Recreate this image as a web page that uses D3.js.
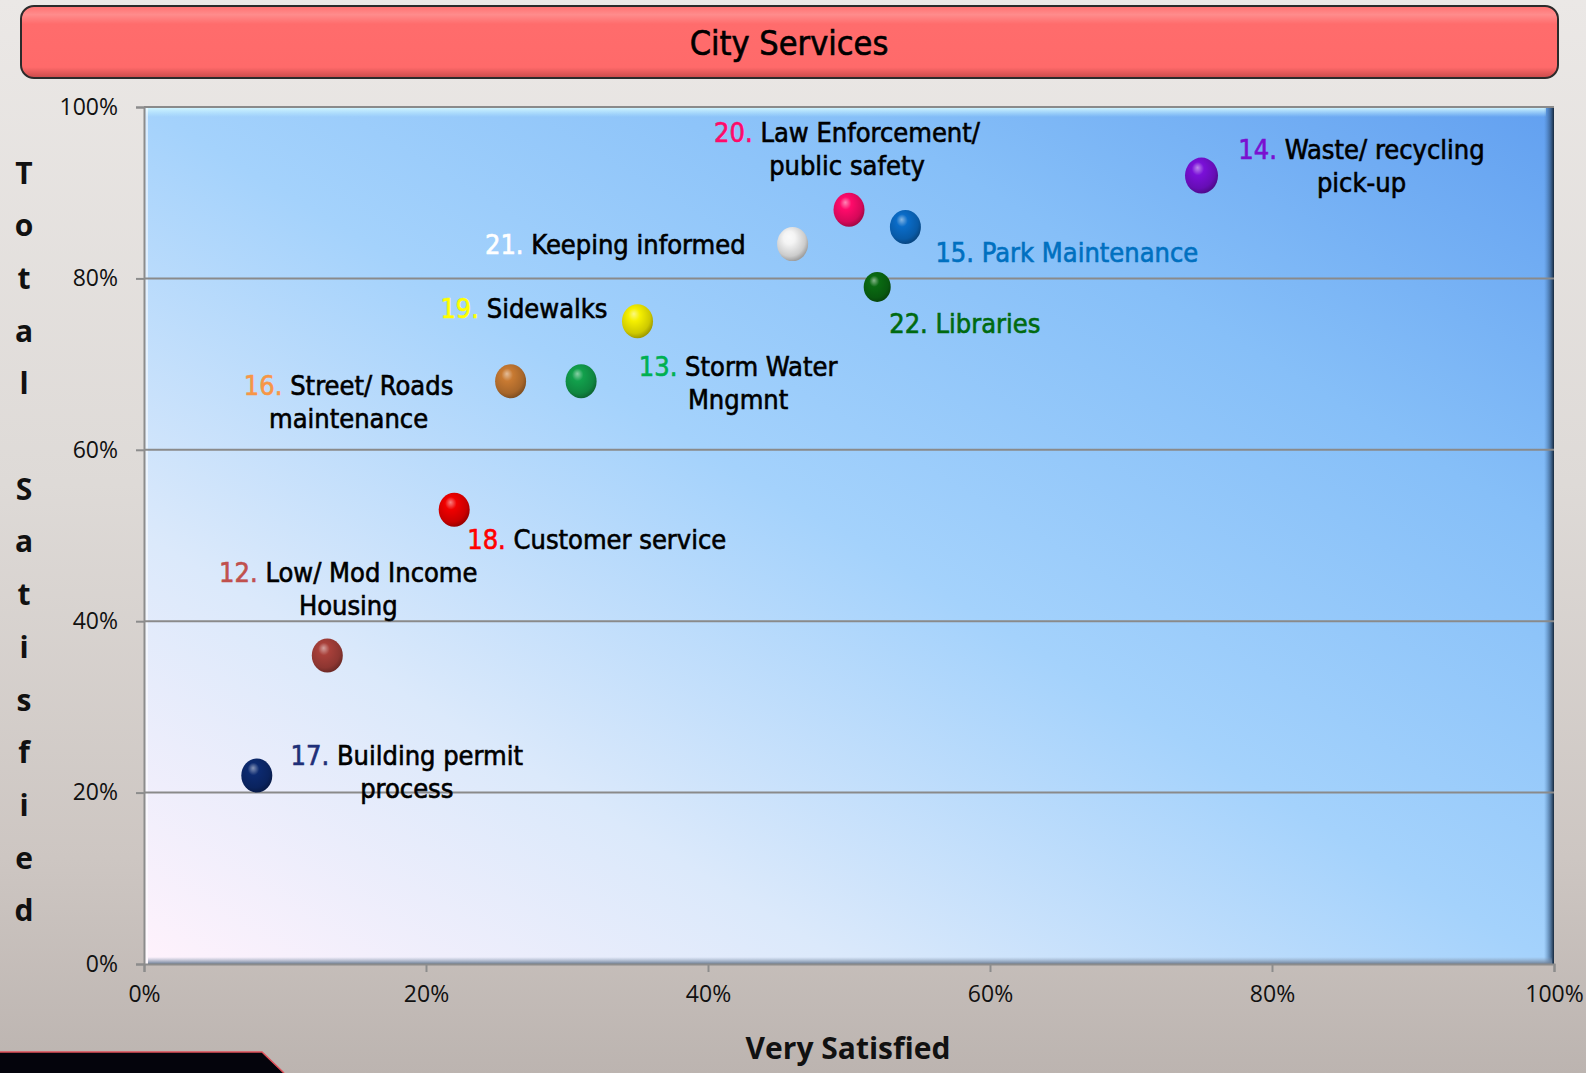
<!DOCTYPE html>
<html>
<head>
  <title>City Services - Satisfaction</title>
  <style>
    body { margin: 0; background: #d8d4d1; }
    #chart { width: 1586px; height: 1073px; }
    .tick text { font-family: "Open Sans", sans-serif; font-size: 23px; fill: #111; }
    .label { font-family: "DejaVu Sans Condensed", "Liberation Sans Narrow", Roboto, sans-serif; font-size: 27px; }
  </style>
  <script src="https://d3js.org/d3.v7.min.js"></script>
</head>
<body>
  <div id="chart"></div>

  <script>
    // data (percent)
    var serviceIds = [12, 13, 14, 15, 16, 17, 18, 19, 20, 21, 22];
    var serviceNames = [
      ["Low/ Mod Income", "Housing"],
      ["Storm Water", "Mngmnt"],
      ["Waste/ recycling", "pick-up"],
      ["Park Maintenance"],
      ["Street/ Roads", "maintenance"],
      ["Building permit", "process"],
      ["Customer service"],
      ["Sidewalks"],
      ["Law Enforcement/", "public safety"],
      ["Keeping informed"],
      ["Libraries"]
    ];
    var verySatisfied = [13, 31, 75, 54, 26, 8, 22, 35, 50, 46, 52];
    var totalSatisfied = [36, 68, 92, 86, 68, 22, 53, 75, 88, 84, 79];
    var xTicks = [0, 20, 40, 60, 80, 100];
    var yTicks = [0, 20, 40, 60, 80, 100];

    // look of each point: ball colour, number colour, text colour, label offset
    var pointStyle = {
      12: { ball: "#a8403a", num: "#c0504d", txt: "#000", anchor: "middle", dx: 21, dy: -83, r: 16 },
      13: { ball: "#12a04c", num: "#00b050", txt: "#000", anchor: "middle", dx: 157, dy: -15, r: 16 },
      14: { ball: "#7a10d8", num: "#7a10d0", txt: "#000", anchor: "middle", dx: 160, dy: -27, r: 17 },
      15: { ball: "#0a6cc8", num: "#0070c0", txt: "#0070c0", anchor: "start", dx: 30, dy: 25, r: 16 },
      16: { ball: "#c87a32", num: "#f79646", txt: "#000", anchor: "middle", dx: -162, dy: 4, r: 16 },
      17: { ball: "#0c2a70", num: "#1f2f78", txt: "#000", anchor: "middle", dx: 150, dy: -20, r: 16 },
      18: { ball: "#f00000", num: "#ff0000", txt: "#000", anchor: "start", dx: 13, dy: 29, r: 16 },
      19: { ball: "#f6f000", num: "#ffff00", txt: "#000", anchor: "end", dx: -30, dy: -13, r: 16 },
      20: { ball: "#ff0a6a", num: "#ff0a6a", txt: "#000", anchor: "middle", dx: -2, dy: -78, r: 16 },
      21: { ball: "#f4f4f4", num: "#ffffff", txt: "#000", anchor: "end", dx: -47, dy: 0, r: 16 },
      22: { ball: "#0a6a12", num: "#006a10", txt: "#006a10", anchor: "start", dx: 12, dy: 36, r: 14 }
    };

    var width = 1586, height = 1073;
    var plot = { left: 144, right: 1554, top: 107, bottom: 964 };

    var svg = d3.select("#chart").append("svg")
      .attr("width", width)
      .attr("height", height);

    var defs = svg.append("defs");

    // page background
    var bg = defs.append("linearGradient").attr("id", "bg")
      .attr("x1", 0).attr("y1", 0).attr("x2", 0).attr("y2", 1);
    bg.append("stop").attr("offset", 0).attr("stop-color", "#ebe8e6");
    bg.append("stop").attr("offset", 0.45).attr("stop-color", "#dedad7");
    bg.append("stop").attr("offset", 0.8).attr("stop-color", "#cdc6c2");
    bg.append("stop").attr("offset", 1).attr("stop-color", "#bcb4b0");
    svg.append("rect").attr("width", width).attr("height", height).attr("fill", "url(#bg)");

    // black band bottom left
    svg.append("path")
      .attr("d", "M0,1052 L262,1052 L284,1073 L0,1073 Z")
      .attr("fill", "#04040c");
    svg.append("path")
      .attr("d", "M0,1052 L262,1052 L284,1073")
      .attr("fill", "none").attr("stroke", "#e0505a").attr("stroke-width", 1.5);

    // title bar
    var tg = defs.append("linearGradient").attr("id", "titleFill")
      .attr("x1", 0).attr("y1", 0).attr("x2", 0).attr("y2", 1);
    tg.append("stop").attr("offset", 0).attr("stop-color", "#ff7070");
    tg.append("stop").attr("offset", 0.12).attr("stop-color", "#ff8c8c");
    tg.append("stop").attr("offset", 0.25).attr("stop-color", "#ff6c6c");
    tg.append("stop").attr("offset", 0.85).attr("stop-color", "#ff6a6a");
    tg.append("stop").attr("offset", 1).attr("stop-color", "#c84a4a");
    svg.append("rect")
      .attr("x", 21).attr("y", 6).attr("width", 1537).attr("height", 72).attr("rx", 13)
      .attr("fill", "url(#titleFill)").attr("stroke", "#2b2b2b").attr("stroke-width", 2);
    svg.append("text")
      .attr("x", 789).attr("y", 43)
      .attr("text-anchor", "middle").attr("dominant-baseline", "central")
      .attr("class", "label").style("font-size", "34px")
      .attr("fill", "#000").attr("stroke", "#000").attr("stroke-width", 0.6)
      .text("City Services");

    // plot area fill
    var pg = defs.append("linearGradient").attr("id", "plotFill")
      .attr("x1", 0).attr("y1", 1).attr("x2", 1).attr("y2", 0);
    pg.append("stop").attr("offset", 0).attr("stop-color", "#fff2fc");
    pg.append("stop").attr("offset", 0.25).attr("stop-color", "#dbe9fb");
    pg.append("stop").attr("offset", 0.5).attr("stop-color", "#a4d2fc");
    pg.append("stop").attr("offset", 0.75).attr("stop-color", "#86bff8");
    pg.append("stop").attr("offset", 1).attr("stop-color", "#62a0f0");
    svg.append("rect")
      .attr("x", plot.left).attr("y", plot.top)
      .attr("width", plot.right - plot.left).attr("height", plot.bottom - plot.top)
      .attr("fill", "url(#plotFill)");

    // bevel edges
    var bt = defs.append("linearGradient").attr("id", "bevTop")
      .attr("x1", 0).attr("y1", 0).attr("x2", 0).attr("y2", 1);
    bt.append("stop").attr("offset", 0).attr("stop-color", "#d2f6ff").attr("stop-opacity", 0.95);
    bt.append("stop").attr("offset", 1).attr("stop-color", "#bff0ff").attr("stop-opacity", 0);
    svg.append("rect").attr("x", plot.left + 2).attr("y", plot.top + 1)
      .attr("width", plot.right - plot.left - 10).attr("height", 9).attr("fill", "url(#bevTop)");

    var br = defs.append("linearGradient").attr("id", "bevRight")
      .attr("x1", 0).attr("y1", 0).attr("x2", 1).attr("y2", 0);
    br.append("stop").attr("offset", 0).attr("stop-color", "#3a6aa0").attr("stop-opacity", 0);
    br.append("stop").attr("offset", 0.6).attr("stop-color", "#2a4a70").attr("stop-opacity", 0.6);
    br.append("stop").attr("offset", 1).attr("stop-color", "#16283c").attr("stop-opacity", 1);
    svg.append("rect").attr("x", plot.right - 10).attr("y", plot.top)
      .attr("width", 10).attr("height", plot.bottom - plot.top).attr("fill", "url(#bevRight)");

    var bb = defs.append("linearGradient").attr("id", "bevBottom")
      .attr("x1", 0).attr("y1", 0).attr("x2", 0).attr("y2", 1);
    bb.append("stop").attr("offset", 0).attr("stop-color", "#8a9cb4").attr("stop-opacity", 0);
    bb.append("stop").attr("offset", 1).attr("stop-color", "#6c7e96").attr("stop-opacity", 1);
    svg.append("rect").attr("x", plot.left + 4).attr("y", plot.bottom - 7)
      .attr("width", plot.right - plot.left - 6).attr("height", 7).attr("fill", "url(#bevBottom)");

    svg.append("rect").attr("x", plot.left).attr("y", plot.top)
      .attr("width", 4).attr("height", plot.bottom - plot.top)
      .attr("fill", "#ffffff").attr("opacity", 0.55);

    // scales
    var x = d3.scaleLinear().domain([0, 100]).range([plot.left, plot.right]);
    var y = d3.scaleLinear().domain([0, 100]).range([plot.bottom, plot.top]);

    // gridlines
    svg.append("g").selectAll("line")
      .data(yTicks.filter(function(d) { return d > 0; }))
      .enter().append("line")
      .attr("x1", plot.left).attr("x2", plot.right)
      .attr("y1", function(d) { return y(d); }).attr("y2", function(d) { return y(d); })
      .attr("stroke", "#8a8a8a").attr("stroke-width", 2);

    // axes
    var yAxis = d3.axisLeft(y).tickValues(yTicks)
      .tickFormat(function(d) { return d + "%"; })
      .tickSize(8).tickPadding(18);
    var gy = svg.append("g").attr("transform", "translate(" + plot.left + ",0)").call(yAxis);

    var xAxis = d3.axisBottom(x).tickValues(xTicks)
      .tickFormat(function(d) { return d + "%"; })
      .tickSize(8).tickPadding(14);
    var gx = svg.append("g").attr("transform", "translate(0," + plot.bottom + ")").call(xAxis);

    [gx, gy].forEach(function(g) {
      g.select(".domain").attr("stroke", "#8c8c8c").attr("stroke-width", 2);
      g.selectAll(".tick line").attr("stroke", "#8c8c8c").attr("stroke-width", 2);
      g.selectAll(".tick text").attr("font-family", null).attr("font-size", null);
    });

    // axis titles
    svg.append("text")
      .attr("x", 848).attr("y", 1047)
      .attr("text-anchor", "middle").attr("dominant-baseline", "central")
      .style("font-family", "'Open Sans', sans-serif").style("font-weight", "bold").style("font-size", "30px")
      .attr("fill", "#111")
      .text("Very Satisfied");

    var yTitle = "Total Satisfied".split("");
    svg.append("g").selectAll("text")
      .data(yTitle)
      .enter().append("text")
      .attr("x", 24)
      .attr("y", function(d, i) { return 172 + i * 52.7; })
      .attr("text-anchor", "middle").attr("dominant-baseline", "central")
      .style("font-family", "'Open Sans', sans-serif").style("font-weight", "bold").style("font-size", "30px")
      .attr("fill", "#111")
      .text(function(d) { return d; });

    // sphere gradients
    serviceIds.forEach(function(id) {
      var c = d3.color(pointStyle[id].ball);
      var g = defs.append("radialGradient").attr("id", "ball" + id)
        .attr("cx", "42%").attr("cy", "38%").attr("r", "62%")
        .attr("fx", "38%").attr("fy", "28%");
      g.append("stop").attr("offset", 0).attr("stop-color", d3.interpolateRgb(c, "#ffffff")(0.5));
      g.append("stop").attr("offset", 0.3).attr("stop-color", c.formatHex());
      g.append("stop").attr("offset", 0.8).attr("stop-color", c.darker(0.5).formatHex());
      g.append("stop").attr("offset", 1).attr("stop-color", c.darker(1.2).formatHex());
    });

    var points = serviceIds.map(function(id, i) {
      return { id: id, lines: serviceNames[i], vx: verySatisfied[i], vy: totalSatisfied[i] };
    });

    // balls
    svg.append("g").selectAll("ellipse")
      .data(points)
      .enter().append("ellipse")
      .attr("cx", function(d) { return x(d.vx); })
      .attr("cy", function(d) { return y(d.vy); })
      .attr("rx", function(d) { return pointStyle[d.id].r - 0.5; })
      .attr("ry", function(d) { return pointStyle[d.id].r + 1; })
      .attr("fill", function(d) { return "url(#ball" + d.id + ")"; });

    // labels
    var lineGap = 33;
    var labels = svg.append("g").selectAll("g")
      .data(points)
      .enter().append("g")
      .attr("class", "label");

    labels.each(function(d) {
      var s = pointStyle[d.id];
      var g = d3.select(this);
      var lx = x(d.vx) + s.dx, ly = y(d.vy) + s.dy;
      d.lines.forEach(function(line, k) {
        var t = g.append("text")
          .attr("x", lx).attr("y", ly + k * lineGap)
          .attr("text-anchor", s.anchor)
          .attr("dominant-baseline", "central")
          .attr("stroke-width", 0.6);
        if (k === 0) {
          t.append("tspan").attr("fill", s.num).attr("stroke", s.num).text(d.id + ". ");
        }
        t.append("tspan").attr("fill", s.txt).attr("stroke", s.txt).text(line);
      });
    });
  </script>
</body>
</html>
